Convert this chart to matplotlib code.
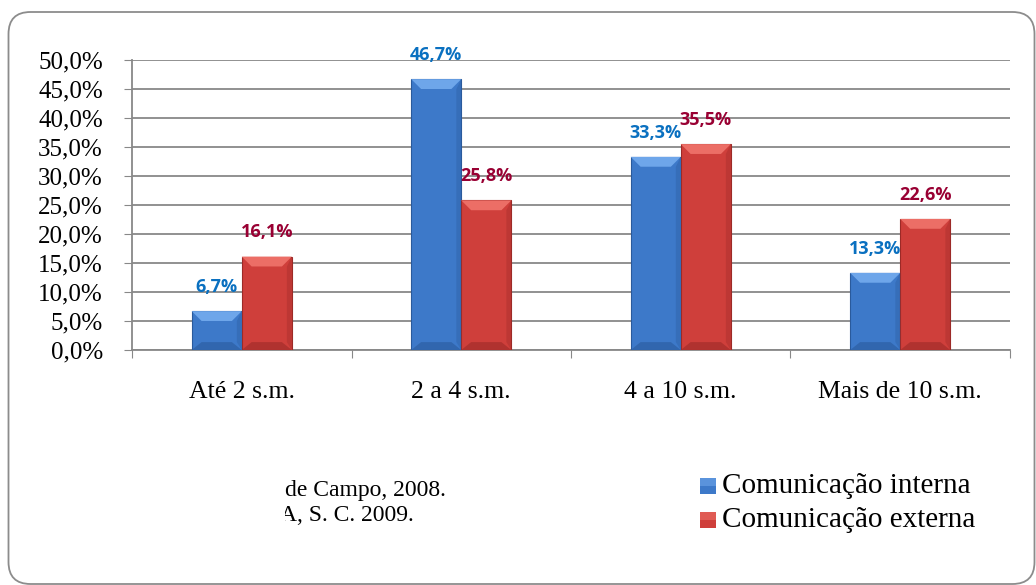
import numpy as np
import matplotlib.pyplot as plt
from matplotlib.patches import FancyBboxPatch, Polygon, Rectangle
from matplotlib.transforms import IdentityTransform
from matplotlib.ticker import FuncFormatter

categories = ['Até 2 s.m.', '2 a 4 s.m.', '4 a 10 s.m.', 'Mais de 10 s.m.']
interna = [6.7, 46.7, 33.3, 13.3]
externa = [16.1, 25.8, 35.5, 22.6]
series_names = ['Comunicação interna', 'Comunicação externa']
source_lines = ['de Campo, 2008.', 'A, S. C. 2009.']

blue = '#3d79c9'
red = '#cf3f3b'
blue_top = '#6ea6ea'
red_top = '#ec6e66'
blue_dark = '#2a5a9c'
red_dark = '#9c2a27'
blue_lbl = '#0a70c0'
red_lbl = '#990033'

serif = ['Liberation Serif', 'DejaVu Serif']

W, H = 1036, 585
fig = plt.figure(figsize=(W / 100, H / 100), dpi=100)
# rounded chart border
fig.patches.append(FancyBboxPatch((8.5, H - 584), 1026, 572, boxstyle='round,pad=0,rounding_size=22',
                                  transform=IdentityTransform(), fill=False, edgecolor='#8c8c8c',
                                  linewidth=1.3))

ax = fig.add_axes([132 / W, 1 - 350 / H, 878 / W, 290 / H])
x = np.arange(len(categories)) + 0.5
w = 0.228

dy = 1.7   # bevel height in data units
dx = 0.045  # bevel inset


def draw_bar(xl, h, c, ctop, cdark):
    ax.add_patch(Rectangle((xl, 0), w, h, facecolor=c, edgecolor=cdark, linewidth=0.8, zorder=3))
    ax.add_patch(Polygon([(xl, h), (xl + w, h), (xl + w - dx, h - dy), (xl + dx, h - dy)],
                         closed=True, facecolor=ctop, edgecolor='none', zorder=4))
    ax.add_patch(Polygon([(xl, 0), (xl + w, 0), (xl + w - dx, dy * 0.8), (xl + dx, dy * 0.8)],
                         closed=True, facecolor=cdark, edgecolor='none', alpha=0.6, zorder=4))
    ax.add_patch(Polygon([(xl + w, 0), (xl + w, h), (xl + w - dx * 0.5, h - dy), (xl + w - dx * 0.5, dy * 0.8)],
                         closed=True, facecolor=cdark, edgecolor='none', alpha=0.35, zorder=4))


def pct(v):
    return ('%.1f%%' % v).replace('.', ',')


for i in range(len(categories)):
    draw_bar(x[i] - w, interna[i], blue, blue_top, blue_dark)
    draw_bar(x[i], externa[i], red, red_top, red_dark)
    ax.text(x[i] - w / 2, interna[i] + 4.2, pct(interna[i]), ha='center', va='center',
            color=blue_lbl, fontsize=13, fontweight='bold', family='Open Sans', zorder=5)
    ax.text(x[i] + w / 2, externa[i] + 4.2, pct(externa[i]), ha='center', va='center',
            color=red_lbl, fontsize=13, fontweight='bold', family='Open Sans', zorder=5)

ax.set_xlim(0, len(categories))
ax.set_ylim(0, 50)
ax.set_yticks(np.arange(0, 51, 5))
ax.yaxis.set_major_formatter(FuncFormatter(lambda v, p: pct(v)))
ax.set_xticks(np.arange(0, len(categories) + 1))
ax.set_xticklabels([])
ax.set_xticks(x, minor=True)
ax.set_xticklabels(categories, minor=True)
ax.tick_params(axis='x', which='minor', length=0, pad=22, labelsize=18.5)
ax.tick_params(axis='x', which='major', length=6, color='#888888', direction='out')
ax.tick_params(axis='y', length=6, color='#888888', labelsize=18, pad=15)
for lab in ax.get_yticklabels() + ax.get_xticklabels(minor=True):
    lab.set_family(serif)
ax.grid(axis='y', color='#888888', linewidth=1.3, zorder=0)
ax.set_axisbelow(True)
for s in ['top', 'right']:
    ax.spines[s].set_visible(False)
for s in ['left', 'bottom']:
    ax.spines[s].set_color('#888888')
    ax.spines[s].set_linewidth(1.3)

# source note, cut off on the left like in the original text box
clip = Rectangle((285, 0), 400, H, transform=IdentityTransform())
t1 = fig.text(285 / W, 1 - 496 / H, source_lines[0], family=serif, fontsize=17, va='baseline', ha='left')
t2 = fig.text(280 / W, 1 - 521 / H, source_lines[1], family=serif, fontsize=17, va='baseline', ha='left')
for t in (t1, t2):
    t.set_clip_path(clip)

# legend
for j, (nm, c, ct) in enumerate(zip(series_names, [blue, red], [blue_top, red_top])):
    yc = 1 - (486 + 34 * j) / H
    fig.patches.append(Rectangle((700 / W, yc - 8 / H), 16 / W, 16 / H, transform=fig.transFigure,
                                 facecolor=c, edgecolor='none'))
    fig.patches.append(Rectangle((700 / W, yc), 16 / W, 8 / H, transform=fig.transFigure,
                                 facecolor=ct, edgecolor='none', alpha=0.6))
    fig.text(722 / W, yc, nm, family=serif, fontsize=21, va='center', ha='left')

fig.savefig('out.png', dpi=100)
